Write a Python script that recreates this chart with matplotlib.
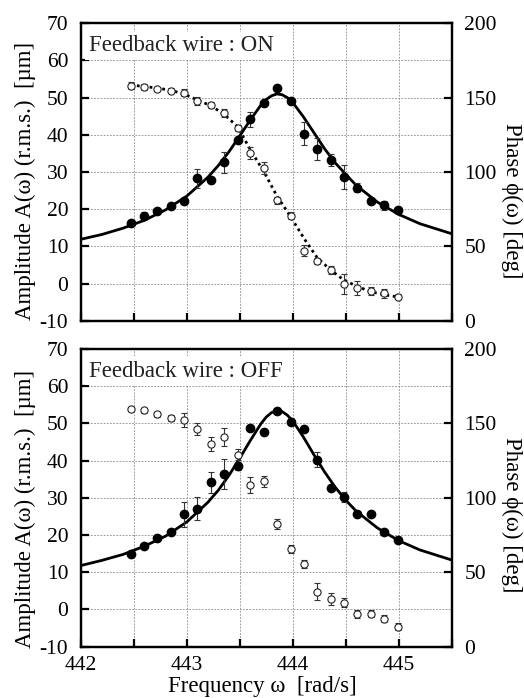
import matplotlib
matplotlib.use('Agg')
import matplotlib.pyplot as plt

plt.rcParams['font.family'] = ['Liberation Serif', 'DejaVu Serif']
plt.rcParams['axes.unicode_minus'] = False

# ---------------- data ----------------
freq = [442.47, 442.60, 442.72, 442.85, 442.97, 443.10, 443.23, 443.35, 443.48, 443.60,
        443.73, 443.85, 443.98, 444.11, 444.23, 444.36, 444.48, 444.61, 444.74, 444.86, 444.99]

# Feedback wire : ON
amp_on = [16.2, 18.3, 19.4, 20.8, 22.2, 28.3, 27.8, 32.6, 38.6, 44.2,
          48.7, 52.5, 49.2, 40.3, 36.2, 33.2, 28.6, 25.8, 22.1, 21.0, 19.8]
amp_on_err = [0.6, 1.0, 0.6, 0.6, 0.8, 2.5, 0.8, 2.8, 0.8, 2.0,
              0.8, 0.8, 0.8, 3.1, 3.0, 1.7, 3.3, 1.3, 0.8, 1.1, 0.8]
phase_on = [158.0, 157.0, 156.0, 154.7, 153.3, 147.7, 145.0, 139.7, 129.6, 112.7,
            103.0, 81.0, 70.7, 47.0, 40.0, 34.0, 25.0, 22.0, 20.0, 18.4, 16.2]
phase_on_err = [2.5, 2.0, 1.5, 1.5, 2.5, 2.5, 2.0, 2.5, 2.0, 4.2,
                4.0, 2.5, 2.5, 3.7, 2.0, 2.5, 6.7, 4.5, 2.5, 3.0, 1.5]
phase_on_fit = [158.5, 157.5, 156.5, 155.0, 152.5, 148.5, 144.5, 139.0, 130.5, 115.0,
                100.0, 84.0, 70.0, 55.0, 42.5, 34.0, 27.5, 23.0, 19.5, 17.5, 16.0]

# Feedback wire : OFF
amp_off = [14.9, 17.1, 19.2, 20.8, 25.6, 27.1, 34.2, 36.4, 38.5, 48.8,
           47.7, 53.3, 50.5, 48.5, 40.3, 32.7, 30.2, 25.6, 25.6, 20.9, 18.8]
amp_off_err = [0.6, 0.6, 0.8, 0.6, 3.4, 3.0, 2.8, 4.1, 1.0, 0.6,
               0.6, 0.6, 1.0, 0.6, 2.1, 0.6, 1.4, 0.8, 0.6, 0.6, 0.6]
phase_off = [159.7, 158.8, 156.0, 153.4, 152.3, 146.5, 136.4, 140.9, 129.0, 108.6,
             111.3, 82.4, 65.6, 55.7, 36.9, 31.8, 29.5, 22.0, 22.2, 18.8, 13.4]
phase_off_err = [1.5, 1.5, 2.0, 2.0, 4.7, 4.1, 4.7, 5.9, 3.6, 5.3,
                 3.7, 3.2, 2.8, 2.6, 5.8, 4.0, 3.0, 2.5, 2.5, 2.5, 2.5]

# fitted amplitude curves
fit_x = [442.0, 442.2, 442.4, 442.6, 442.8, 443.0, 443.2, 443.3, 443.4, 443.5,
         443.6, 443.7, 443.75, 443.8, 443.85, 443.9, 443.95, 444.0, 444.1, 444.2,
         444.3, 444.4, 444.5, 444.6, 444.8, 445.0, 445.2, 445.5]
fit_amp_on = [11.9, 13.2, 14.9, 17.0, 19.8, 23.5, 28.6, 31.8, 35.5, 39.7,
              44.0, 48.0, 49.5, 50.5, 51.0, 50.8, 50.0, 48.7, 44.9, 40.6,
              36.3, 32.5, 29.4, 26.4, 21.9, 18.6, 16.1, 13.4]
fit_amp_off = [11.8, 13.2, 14.8, 17.0, 19.7, 23.5, 28.8, 32.1, 36.1, 40.6,
               45.4, 49.9, 51.7, 52.9, 53.4, 53.2, 52.2, 50.7, 46.4, 41.6,
               37.0, 32.9, 29.4, 26.4, 21.9, 18.5, 16.0, 13.3]

amp_ticks = [-10, 0, 10, 20, 30, 40, 50, 60, 70]
phase_ticks = [0, 50, 100, 150, 200]
x_major = [442, 443, 444, 445]
x_minor = [442.5, 443.5, 444.5, 445.5]
x_labels = ['442', '443', '444', '445']

TICK_FS = 15.5
LABEL_FS = 16.5

fig = plt.figure(figsize=(5.24, 6.98), dpi=100)
ax_top = fig.add_axes([0.154, 0.5405, 0.708, 0.4261])
ax_bot = fig.add_axes([0.154, 0.0735, 0.708, 0.4265])


def style(ax, show_xlabels):
    ax.set_xlim(442, 445.5)
    ax.set_ylim(-10, 70)
    ax.set_yticks(amp_ticks)
    ax.set_xticks(x_major)
    ax.set_xticks(x_minor, minor=True)
    if show_xlabels:
        ax.set_xticklabels(x_labels)
    else:
        ax.set_xticklabels([])
    ax.tick_params(axis='both', which='both', direction='in', length=5.5, width=1.6,
                   labelsize=TICK_FS, top=False, right=False)
    ax.tick_params(axis='y', pad=9)
    ax.tick_params(axis='x', pad=7)
    ax.grid(True, which='both', color='#8f8f8f', linestyle=(0, (2.2, 1.6)), linewidth=0.6)
    ax.set_axisbelow(True)
    for s in ax.spines.values():
        s.set_linewidth(1.6)
    ax2 = ax.twinx()
    ax2.set_ylim(0, 200)
    ax2.set_yticks(phase_ticks)
    ax2.tick_params(axis='y', direction='in', length=5.5, width=1.6, labelsize=TICK_FS, pad=9)
    for s in ax2.spines.values():
        s.set_linewidth(1.6)
    return ax2


ax2_top = style(ax_top, False)
ax2_bot = style(ax_bot, True)

ebkw = dict(ecolor='#333333', elinewidth=0.8, capsize=2.2, capthick=0.8)

# ON panel
ax_top.plot(fit_x, fit_amp_on, color='black', lw=2.0, zorder=3)
ax_top.errorbar(freq, amp_on, yerr=amp_on_err, fmt='o', color='black', ms=6.0,
                zorder=4, **ebkw)
ax2_top.plot(freq, phase_on_fit, color='black', lw=2.0, linestyle=(0, (1, 1.3)), zorder=2)
ax2_top.errorbar(freq, phase_on, yerr=phase_on_err, fmt='o', mfc='white', mec='#222222',
                 mew=0.8, ms=5.2, zorder=3, **ebkw)

# OFF panel
ax_bot.plot(fit_x, fit_amp_off, color='black', lw=2.0, zorder=3)
ax_bot.errorbar(freq, amp_off, yerr=amp_off_err, fmt='o', color='black', ms=6.0,
                zorder=4, **ebkw)
ax2_bot.errorbar(freq, phase_off, yerr=phase_off_err, fmt='o', mfc='white', mec='#222222',
                 mew=0.8, ms=5.2, zorder=3, **ebkw)

for ax, txt in ((ax_top, 'Feedback wire : ON'), (ax_bot, 'Feedback wire : OFF')):
    ax.text(0.022, 0.925, txt, transform=ax.transAxes, ha='left', va='center',
            fontsize=LABEL_FS, color='#222222', zorder=2,
            bbox=dict(facecolor='white', edgecolor='none', pad=2.5))

# axis labels
fig.text(0.048, 0.7407, 'Amplitude A(ω) (r.m.s.)  [µm]', rotation=90, ha='center',
         va='center', fontsize=LABEL_FS)
fig.text(0.048, 0.2708, 'Amplitude A(ω) (r.m.s.)  [µm]', rotation=90, ha='center',
         va='center', fontsize=LABEL_FS)
fig.text(0.976, 0.712, 'Phase ϕ(ω) [deg]', rotation=-90, ha='center', va='center',
         fontsize=LABEL_FS)
fig.text(0.976, 0.262, 'Phase ϕ(ω) [deg]', rotation=-90, ha='center', va='center',
         fontsize=LABEL_FS)
fig.text(0.5, 0.002, 'Frequency ω  [rad/s]', ha='center', va='bottom', fontsize=LABEL_FS)

fig.savefig('out.png', dpi=100)
